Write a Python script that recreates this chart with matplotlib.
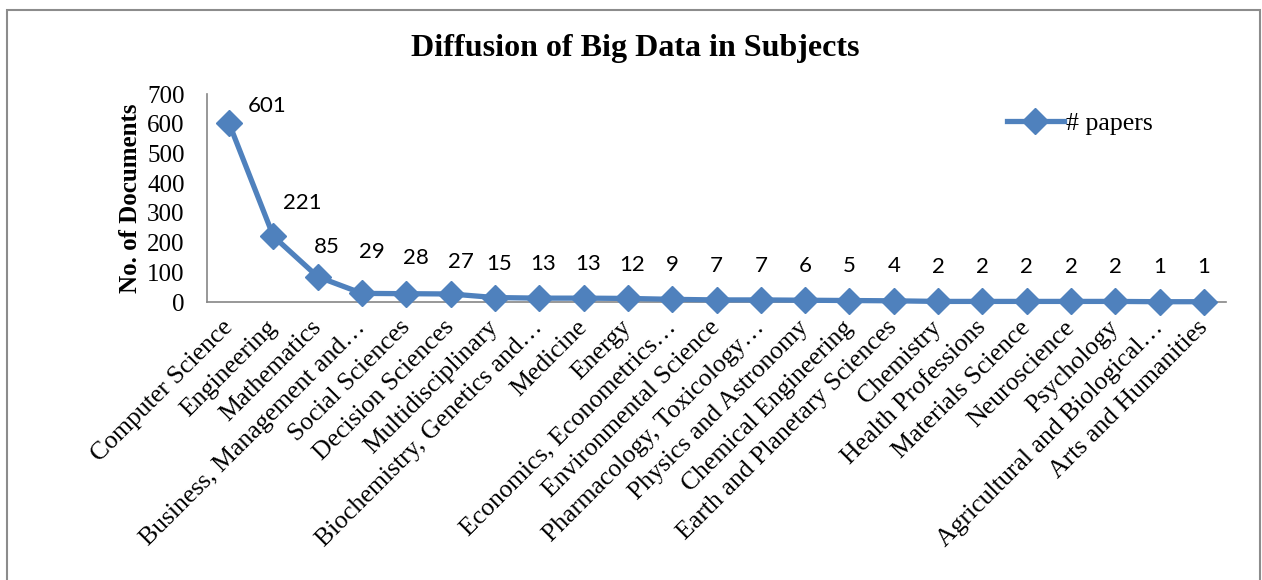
import matplotlib
matplotlib.use('Agg')
import matplotlib.pyplot as plt
from matplotlib.patches import Rectangle

subjects = ['Computer Science', 'Engineering', 'Mathematics', 'Business, Management and…',
            'Social Sciences', 'Decision Sciences', 'Multidisciplinary',
            'Biochemistry, Genetics and…', 'Medicine', 'Energy', 'Economics, Econometrics…',
            'Environmental Science', 'Pharmacology, Toxicology…', 'Physics and Astronomy',
            'Chemical Engineering', 'Earth and Planetary Sciences', 'Chemistry',
            'Health Professions', 'Materials Science', 'Neuroscience', 'Psychology',
            'Agricultural and Biological…', 'Arts and Humanities']
papers = [601, 221, 85, 29, 28, 27, 15, 13, 13, 12, 9, 7, 7, 6, 5, 4, 2, 2, 2, 2, 2, 1, 1]
y_ticks = [0, 100, 200, 300, 400, 500, 600, 700]

SERIF = 'Liberation Serif'
BLUE = '#4F81BD'; AXIS_GRAY = '#868686'

fig = plt.figure(figsize=(12.62, 5.80), dpi=100)
fig.patches.append(Rectangle((0.0055, -0.05), 0.993, 0.05 + 0.9828, transform=fig.transFigure,
                             fill=False, edgecolor='#8c8c8c', linewidth=1.5))

ax = fig.add_axes([0.164, 0.4793, 0.8075, 0.3586])
x = list(range(len(subjects)))
ax.plot(x, papers, '-D', color=BLUE, linewidth=3.8, markersize=13, label='# papers',
        clip_on=False, zorder=3)

# data labels (offsets in pixels, roughly as placed in the original)
offsets = {0: (38, 17), 1: (29, 33), 2: (9, 30), 3: (10, 41), 4: (10, 36), 5: (10, 32)}
for i, v in enumerate(papers):
    dx, dy = offsets.get(i, (4 if i < 10 else 0, 35 - min(v, 15) * 0.1))
    ax.annotate(str(v), (i, v), xytext=(dx * 0.72, dy * 0.72), textcoords='offset points',
                ha='center', va='center', fontsize=16, family='Lato', color='black')

ax.set_xlim(-0.5, len(subjects) - 0.5)
ax.set_ylim(0, 700)
ax.set_yticks(y_ticks)
ax.set_yticklabels([str(t) for t in y_ticks], family=SERIF, fontsize=18)
ax.set_xticks(x)
ax.set_xticklabels(subjects, family=SERIF, fontsize=18.5, rotation=45, ha='right',
                   va='center', rotation_mode='anchor')
ax.tick_params(axis='y', length=0, pad=16)
ax.tick_params(axis='x', length=0, pad=16)
for s in ['top', 'right']:
    ax.spines[s].set_visible(False)
for s in ['left', 'bottom']:
    ax.spines[s].set_color(AXIS_GRAY)
    ax.spines[s].set_linewidth(1.2)

ax.set_ylabel('No. of Documents', family=SERIF, fontsize=18, fontweight='bold', labelpad=4)
fig.text(0.503, 0.917, 'Diffusion of Big Data in Subjects', family=SERIF, fontsize=23,
         fontweight='bold', ha='center', va='center')

ax.legend(loc='center left', bbox_to_anchor=(0.775, 0.86), frameon=False,
          prop={'family': SERIF, 'size': 18.5}, handlelength=2.2, handletextpad=0.1,
          borderaxespad=0)

fig.savefig('out.png', dpi=100)
